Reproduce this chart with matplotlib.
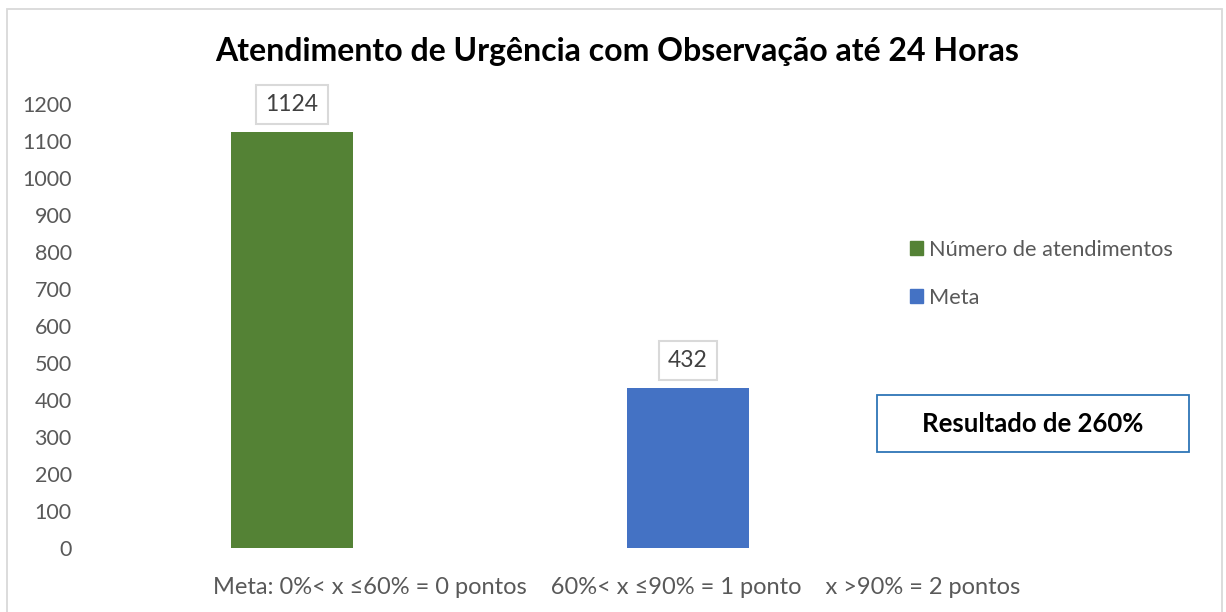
import matplotlib.pyplot as plt
from matplotlib.patches import Rectangle, Patch

plt.rcParams["font.family"] = ["Lato", "DejaVu Sans"]

categories = ["Número de atendimentos", "Meta"]
values = [1124, 432]
colors = ["#548235", "#4472C4"]
yticks = list(range(0, 1201, 100))
title = "Atendimento de Urgência com Observação até 24 Horas"
xlabel = "Meta: 0%< x \u226460% = 0 pontos    60%< x \u226490% = 1 ponto    x >90% = 2 pontos"
result_text = "Resultado de 260%"

text_grey = "#595959"


def main():
    fig = plt.figure(figsize=(12.26, 6.12), dpi=100)
    ax = fig.add_axes([94 / 1226, 64 / 612, 792 / 1226, 444 / 612])

    x = range(len(values))
    bars = ax.bar(x, values, width=0.31, color=colors)

    ax.set_xlim(-0.5, 1.5)
    ax.set_ylim(0, 1200)
    ax.set_yticks(yticks)
    ax.set_xticks([])
    ax.tick_params(axis="y", length=0, labelsize=15.5, labelcolor=text_grey, pad=16)
    for s in ax.spines.values():
        s.set_visible(False)

    # data labels in boxes
    for b, v in zip(bars, values):
        ax.annotate(str(v), (b.get_x() + b.get_width() / 2, v),
                    xytext=(0, 20), textcoords="offset points",
                    ha="center", va="center", fontsize=16.5, color="#404040",
                    bbox=dict(boxstyle="square,pad=0.4", fc="white",
                              ec="#D9D9D9", lw=1.5))

    fig.text(617 / 1226, 1 - 52 / 612, title, ha="center", va="center",
             fontsize=23, fontweight="bold", color="black")
    fig.text(617 / 1226, 1 - 588 / 612, xlabel, ha="center", va="center",
             fontsize=17, color=text_grey)

    handles = [Patch(color=c) for c in colors]
    fig.legend(handles, categories, loc="upper left",
               bbox_to_anchor=(890 / 1226, 1 - 220 / 612), frameon=False,
               fontsize=15.7, labelcolor=text_grey, handlelength=0.6,
               handleheight=0.6, handletextpad=0.3, labelspacing=1.3)

    # result box
    fig.patches.append(Rectangle((877 / 1226, 1 - 452 / 612), 312 / 1226, 57 / 612,
                                 transform=fig.transFigure, fc="white",
                                 ec="#2E75B6", lw=1.3))
    fig.text(1033 / 1226, 1 - 424 / 612, result_text, ha="center", va="center",
             fontsize=18.5, fontweight="bold", color="black")

    # chart border
    fig.patches.append(Rectangle((7 / 1226, -0.05), 1215 / 1226, 1.05 - 9 / 612,
                                 transform=fig.transFigure, fill=False,
                                 ec="#D9D9D9", lw=1.3))

    fig.savefig("out.png", dpi=100)


if __name__ == "__main__":
    main()
